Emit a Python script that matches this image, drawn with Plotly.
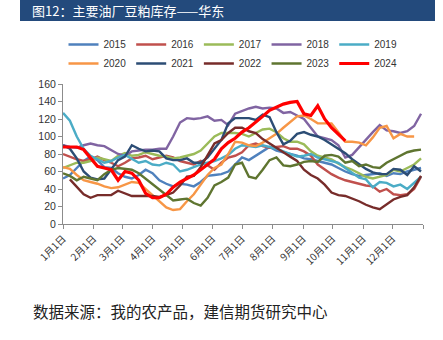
import pandas as pd
import plotly.graph_objects as go

# Weekly inventory readings (10k t), one value per week starting 1 Jan
weeks = pd.date_range("2024-01-01", periods=53, freq="7D")

s2015 = [52, 56, 64, 72, 77, 73, 65, 64, 58, 54, 52, 56, 62, 58, 50, 46, 43, 46,
         45, 43, 48, 55, 56, 57, 60, 68, 76, 73, 78, 84, 88, 84, 82, 80, 78, 75,
         74, 72, 70, 68, 64, 60, 57, 55, 56, 57, 58, 55, 58, 57, 60, 62, 64]
s2016 = [80, 77, 74, 72, 74, 77, 73, 70, 66, 70, 75, 76, 78, 74, 76, 78, 76, 72,
         70, 68, 72, 67, 62, 70, 76, 78, 82, 90, 92, 89, 87, 88, 89, 86, 86, 83,
         78, 68, 62, 57, 53, 50, 48, 46, 44, 43, 37, 40, 34, 33, 34, 40, 54]
s2017 = [64, 67, 70, 70, 72, 76, 74, 72, 78, 81, 78, 79, 82, 80, 78, 77, 75, 76,
         78, 80, 84, 92, 100, 104, 104, 104, 103, 100, 104, 108, 109, 105, 98, 94, 94, 91,
         83, 78, 76, 74, 69, 65, 62, 58, 54, 52, 54, 56, 62, 60, 64, 68, 75]
s2018 = [90, 88, 87, 90, 92, 90, 89, 84, 80, 78, 83, 84, 85, 85, 86, 86, 100, 116,
         121, 120, 121, 123, 118, 119, 113, 126, 129, 132, 134, 132, 133, 132, 127, 128, 124, 120,
         110, 100, 98, 96, 90, 76, 79, 88, 96, 105, 113, 107, 106, 104, 106, 112, 126]
s2019 = [127, 118, 100, 86, 78, 74, 70, 72, 76, 79, 74, 70, 72, 68, 67, 70, 68, 60,
         62, 65, 68, 70, 72, 75, 79, 86, 90, 89, 88, 90, 88, 86, 83, 80, 77, 78,
         80, 76, 74, 72, 70, 64, 58, 53, 51, 42, 48, 47, 43, 45, 40, 47, 54]
s2020 = [65, 63, 56, 50, 48, 46, 43, 41, 42, 45, 48, 47, 40, 32, 25, 19, 16, 17,
         26, 34, 45, 56, 64, 68, 80, 94, 93, 90, 89, 93, 98, 103, 110, 117, 123, 124,
         120, 115, 115, 115, 105, 94, 94, 93, 90, 99, 110, 112, 98, 103, 100, 100, None]
s2021 = [90, 86, 75, 60, 53, 51, 52, 62, 73, 77, 90, 86, 83, 84, 83, 75, 73, 73,
         75, 70, 70, 76, 86, 96, 115, 121, 121, 121, 119, 125, 122, 105, 91, 95, 103, 105,
         102, 100, 96, 91, 87, 81, 74, 68, 63, 59, 57, 57, 63, 62, 56, 66, 60]
s2022 = [None, 51, 42, 34, 30, 33, 33, 33, 38, 35, 32, 32, 32, 32, 31, 33, 36, 44,
         54, 55, 65, 78, 92, 96, 104, 110, 110, 106, 104, 97, 92, 88, 82, 77, 72, 62,
         56, 52, 45, 36, 33, 32, 29, 26, 22, 19, 17, 22, 28, 31, 33, 42, 55]
s2023 = [58, 55, 50, 54, 52, 50, 57, 62, 64, 63, 62, 58, 52, 46, 40, 33, 27, 28,
         29, 24, 21, 30, 44, 48, 53, 68, 70, 54, 52, 62, 73, 76, 67, 66, 68, 71,
         72, 71, 78, 79, 77, 70, 72, 66, 68, 65, 64, 70, 74, 78, 82, 84, 85]
s2024 = [88, 88, 88, 85, 75, 66, 64, 62, 50, 60, 58, 50, 35, 30, 30, 34, 42, 48,
         52, 56, 62, 68, 74, 86, 93, 98, 105, 110, 116, 123, 130, 134, 137, 139, 140, 126,
         124, 135, 120, 110, 103, 95]

years = ["2015", "2016", "2017", "2018", "2019", "2020", "2021", "2022", "2023", "2024"]
series = [s2015, s2016, s2017, s2018, s2019, s2020, s2021, s2022, s2023, s2024]
colors = ["#4F81BD", "#C0504D", "#9BBB59", "#8064A2", "#4BACC6",
          "#F79646", "#2C4D75", "#772C2A", "#5F7530", "#FF0000"]

month_ticks = pd.date_range("2024-01-01", periods=13, freq="MS")
month_labels = [f"{d.month}月1日" for d in month_ticks[:12]] + [""]
y_ticks = [0, 20, 40, 60, 80, 100, 120, 140, 160]

title_text = "图12：主要油厂豆粕库存——华东"
source_text = "数据来源：我的农产品，建信期货研究中心"

fig = go.Figure()
for name, vals, col in zip(years, series, colors):
    fig.add_trace(go.Scatter(
        x=weeks[:len(vals)], y=vals, name=name, mode="lines",
        line=dict(color=col, width=3.2 if name == "2024" else 2.4),
        connectgaps=False,
    ))

W, H = 443, 340
ml, mr, mt, mb = 63, 20, 84, 116
pw, ph = W - ml - mr, H - mt - mb


def px_x(p):
    return (p - ml) / pw


def px_y(p):
    return (H - mb - p) / ph


fig.update_layout(
    width=W, height=H,
    margin=dict(l=ml, r=mr, t=mt, b=mb, pad=0),
    paper_bgcolor="white", plot_bgcolor="white",
    font=dict(family="Liberation Sans Narrow, Liberation Sans, Noto Sans CJK SC", size=10, color="#333333"),
    showlegend=True,
    legend=dict(
        orientation="h", x=px_x(233), xanchor="center", y=px_y(30), yanchor="top",
        font=dict(size=10, color="#333333"), bgcolor="rgba(0,0,0,0)",
        traceorder="normal", itemclick=False, tracegroupgap=0,
    ),
    xaxis=dict(
        type="date", range=["2024-01-01", "2025-01-01"],
        tickvals=month_ticks, ticktext=month_labels, tickangle=-45,
        showgrid=False, zeroline=False, showline=True, linecolor="#8c8c8c", linewidth=1,
        ticks="outside", ticklen=4, tickcolor="#8c8c8c",
        tickfont=dict(family="Noto Sans CJK SC", size=10, color="#333333"),
    ),
    yaxis=dict(
        range=[0, 160], tickvals=y_ticks,
        showgrid=False, zeroline=False, showline=True, linecolor="#8c8c8c", linewidth=1,
        ticks="outside", ticklen=4, tickcolor="#8c8c8c",
        tickfont=dict(size=10.5, color="#333333"),
    ),
    shapes=[dict(
        type="rect", xref="paper", yref="paper",
        x0=px_x(20), x1=px_x(435), y0=px_y(21), y1=px_y(-2),
        fillcolor="#234A7C", line=dict(width=0), layer="below",
    )],
    annotations=[
        dict(text=title_text, xref="paper", yref="paper", x=px_x(30), y=px_y(10.5),
             xanchor="left", yanchor="middle", showarrow=False,
             font=dict(family="Noto Sans CJK SC", size=13, color="white")),
        dict(text=source_text, xref="paper", yref="paper", x=px_x(31), y=px_y(311),
             xanchor="left", yanchor="middle", showarrow=False,
             font=dict(family="Noto Sans CJK SC", size=15.5, color="#222222")),
    ],
)

fig.write_html("out.html")
